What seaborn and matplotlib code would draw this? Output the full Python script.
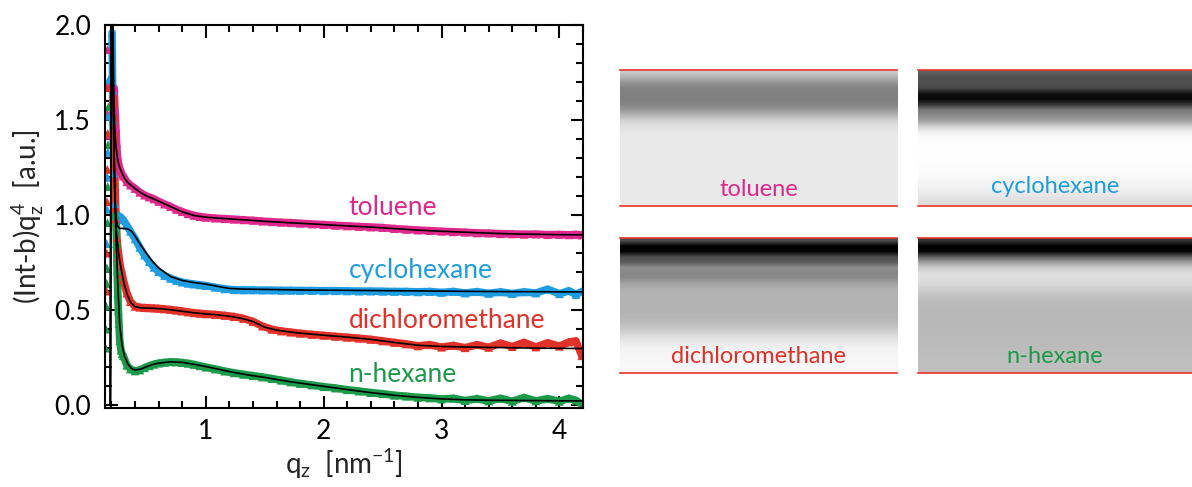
import numpy as np
import pandas as pd
import matplotlib
matplotlib.use("Agg")
import matplotlib.pyplot as plt
from matplotlib.ticker import MultipleLocator
import seaborn as sns

# ---------------------------------------------------------------- data
solvents = ["toluene", "cyclohexane", "dichloromethane", "n-hexane"]
colors = ["#E0278C", "#1F9DE2", "#E23128", "#1B9A4A"]

# measured points below the critical edge (left column of triangles)
tol_rise_q = [0.150, 0.154, 0.158, 0.162, 0.166]
tol_rise_y = [1.20, 1.42, 1.54, 1.69, 1.87]
cyc_rise_q = [0.156, 0.159, 0.162, 0.165, 0.168, 0.171, 0.174]
cyc_rise_y = [0.72, 0.85, 1.03, 1.20, 1.33, 1.52, 1.71]
dcm_rise_q = [0.156, 0.159, 0.162, 0.165, 0.168, 0.171]
dcm_rise_y = [0.60, 0.80, 1.07, 1.24, 1.43, 1.67]
hex_rise_q = [0.150, 0.153, 0.156, 0.159, 0.162, 0.165, 0.168, 0.171, 0.174]
hex_rise_y = [0.30, 0.40, 0.52, 0.64, 0.72, 0.96, 1.15, 1.37, 1.57]

# measured points on the falling side of the edge
tol_edge_q = [0.222, 0.230, 0.237, 0.243, 0.250, 0.260, 0.270, 0.280, 0.290]
tol_edge_y = [1.67, 1.55, 1.46, 1.38, 1.31, 1.27, 1.245, 1.23, 1.215]
cyc_edge_q = [0.205, 0.212, 0.220, 0.228, 0.236, 0.245, 0.255, 0.265, 0.275, 0.285]
cyc_edge_y = [1.96, 1.50, 1.22, 1.06, 1.00, 0.985, 0.99, 0.995, 0.99, 0.985]
dcm_edge_q = [0.214, 0.222, 0.230, 0.238, 0.246, 0.255, 0.263, 0.272, 0.280, 0.290]
dcm_edge_y = [1.62, 1.40, 1.15, 0.98, 0.88, 0.82, 0.78, 0.74, 0.715, 0.69]
hex_edge_q = [0.238, 0.243, 0.248, 0.253, 0.258, 0.263, 0.270, 0.280, 0.290]
hex_edge_y = [1.00, 0.85, 0.71, 0.59, 0.50, 0.43, 0.34, 0.29, 0.27]

# measured curves on a common q grid
q_data = [0.30, 0.33, 0.36, 0.40, 0.44, 0.48, 0.52, 0.56, 0.60,
          0.65, 0.70, 0.75, 0.80, 0.85, 0.90, 0.95, 1.00,
          1.08, 1.16, 1.24, 1.32, 1.40, 1.48, 1.56, 1.64, 1.72, 1.80,
          1.90, 2.00, 2.10, 2.20, 2.30, 2.40, 2.50, 2.60, 2.70, 2.80, 2.90, 3.00,
          3.10, 3.20, 3.30, 3.40, 3.50, 3.60, 3.70, 3.80, 3.90, 4.00,
          4.08, 4.14, 4.19]
toluene_y = [1.205, 1.175, 1.158, 1.14, 1.12, 1.105, 1.095, 1.085, 1.072,
             1.058, 1.045, 1.03, 1.018, 1.007, 0.998, 0.992, 0.988,
             0.984, 0.981, 0.978, 0.975, 0.972, 0.968, 0.965, 0.962, 0.96, 0.957,
             0.953, 0.95, 0.946, 0.943, 0.94, 0.937, 0.934, 0.929, 0.925, 0.921, 0.918, 0.915,
             0.912, 0.91, 0.906, 0.905, 0.902, 0.901, 0.899, 0.90, 0.897, 0.898,
             0.896, 0.898, 0.895]
cyclohexane_y = [0.975, 0.945, 0.915, 0.875, 0.83, 0.79, 0.755, 0.725, 0.702,
                 0.682, 0.667, 0.656, 0.647, 0.641, 0.637, 0.633, 0.629,
                 0.62, 0.612, 0.607, 0.606, 0.606, 0.605, 0.605, 0.604, 0.604, 0.603,
                 0.603, 0.602, 0.602, 0.601, 0.60, 0.60, 0.599, 0.598, 0.598, 0.596, 0.598, 0.593,
                 0.598, 0.59, 0.597, 0.588, 0.596, 0.587, 0.596, 0.59, 0.61, 0.586,
                 0.602, 0.582, 0.598]
dichloromethane_y = [0.66, 0.59, 0.545, 0.52, 0.515, 0.513, 0.512, 0.511, 0.509,
                     0.506, 0.503, 0.499, 0.495, 0.49, 0.486, 0.483, 0.48,
                     0.477, 0.472, 0.466, 0.456, 0.44, 0.416, 0.399, 0.39, 0.384, 0.378,
                     0.372, 0.367, 0.362, 0.357, 0.352, 0.346, 0.338, 0.33, 0.322, 0.312, 0.318, 0.305,
                     0.314, 0.302, 0.318, 0.304, 0.326, 0.308, 0.33, 0.306, 0.328, 0.31,
                     0.332, 0.338, 0.26]
nhexane_y = [0.26, 0.21, 0.19, 0.18, 0.185, 0.197, 0.207, 0.215, 0.221,
             0.225, 0.228, 0.227, 0.224, 0.22, 0.214, 0.207, 0.20,
             0.19, 0.179, 0.17, 0.162, 0.155, 0.148, 0.14, 0.131, 0.122, 0.114,
             0.106, 0.097, 0.09, 0.081, 0.074, 0.066, 0.06, 0.052, 0.047, 0.041, 0.038, 0.032,
             0.036, 0.024, 0.034, 0.022, 0.036, 0.02, 0.04, 0.022, 0.034, 0.02,
             0.036, 0.025, 0.005]

# model fits
q_fit = [0.19, 0.20, 0.21, 0.22, 0.23, 0.24, 0.25, 0.26, 0.27,
         0.29, 0.31, 0.34, 0.37, 0.40, 0.45, 0.50, 0.55, 0.60,
         0.70, 0.80, 0.90, 1.00, 1.10, 1.20, 1.30, 1.40, 1.50, 1.60, 1.70, 1.80,
         2.00, 2.20, 2.40, 2.60, 2.80, 3.00, 3.20, 3.40, 3.60, 3.80, 4.00, 4.20]
toluene_fit = [0.0, 2.6, 2.15, 1.62, 1.42, 1.35, 1.30, 1.27, 1.25,
               1.22, 1.195, 1.17, 1.155, 1.14, 1.117, 1.10, 1.087, 1.073,
               1.045, 1.017, 0.998, 0.989, 0.984, 0.98, 0.976, 0.972, 0.967, 0.964, 0.96, 0.957,
               0.95, 0.943, 0.937, 0.929, 0.921, 0.915, 0.91, 0.905, 0.901, 0.899, 0.897, 0.896]
cyclohexane_fit = [0.0, 2.6, 2.0, 1.4, 1.1, 0.98, 0.945, 0.935, 0.93,
                   0.93, 0.93, 0.926, 0.915, 0.89, 0.84, 0.795, 0.755, 0.722,
                   0.677, 0.656, 0.645, 0.637, 0.625, 0.614, 0.611, 0.61, 0.609, 0.608, 0.607, 0.606,
                   0.605, 0.604, 0.603, 0.602, 0.601, 0.60, 0.599, 0.598, 0.597, 0.597, 0.596, 0.596]
dichloromethane_fit = [0.0, 2.6, 1.85, 1.32, 1.05, 0.92, 0.86, 0.80, 0.76,
                       0.69, 0.63, 0.57, 0.535, 0.518, 0.512, 0.511, 0.51, 0.508,
                       0.502, 0.494, 0.486, 0.48, 0.475, 0.468, 0.457, 0.44, 0.41, 0.395, 0.386, 0.379,
                       0.368, 0.358, 0.346, 0.33, 0.315, 0.309, 0.306, 0.304, 0.302, 0.30, 0.299, 0.298]
nhexane_fit = [0.0, 2.6, 1.9, 1.4, 1.08, 0.86, 0.69, 0.55, 0.42,
               0.315, 0.26, 0.215, 0.193, 0.185, 0.19, 0.203, 0.214, 0.221,
               0.228, 0.225, 0.215, 0.203, 0.19, 0.177, 0.165, 0.155, 0.146, 0.135, 0.125, 0.116,
               0.099, 0.082, 0.066, 0.052, 0.041, 0.033, 0.028, 0.026, 0.025, 0.024, 0.023, 0.022]

# label anchor (left edge, baseline) for each curve
label_q = 2.21
label_y = [1.0, 0.667, 0.404, 0.123]

# grey-level depth profiles (top to bottom, 0 = black, 1 = white)
toluene_profile = [0.80, 0.70, 0.58, 0.51, 0.50, 0.50, 0.52, 0.60, 0.72, 0.83, 0.88, 0.905,
                   0.912, 0.913, 0.913, 0.913, 0.913, 0.913, 0.913, 0.913, 0.913, 0.913,
                   0.913, 0.913, 0.913]
cyclohexane_profile = [0.38, 0.31, 0.31, 0.28, 0.06, 0.03, 0.22, 0.48, 0.55, 0.63, 0.82, 0.94,
                       0.98, 0.99, 0.995, 0.995, 0.995, 0.99, 0.985, 0.975, 0.96, 0.945,
                       0.92, 0.89, 0.86]
dichloromethane_profile = [0.30, 0.0, 0.02, 0.30, 0.36, 0.56, 0.52, 0.55, 0.64, 0.69, 0.70, 0.70,
                           0.70, 0.705, 0.71, 0.73, 0.77, 0.82, 0.88, 0.92, 0.95, 0.96,
                           0.965, 0.97, 0.97]
nhexane_profile = [0.20, 0.0, 0.03, 0.38, 0.62, 0.80, 0.87, 0.87, 0.85, 0.81, 0.77, 0.74,
                   0.725, 0.72, 0.72, 0.72, 0.722, 0.725, 0.728, 0.73, 0.735, 0.74,
                   0.745, 0.748, 0.75]

# ---------------------------------------------------------------- style
sns.set_style("ticks")
plt.rcParams["font.family"] = ["Lato", "DejaVu Sans"]
plt.rcParams["mathtext.fontset"] = "custom"
plt.rcParams["mathtext.rm"] = "Lato"
plt.rcParams["mathtext.it"] = "Lato"
plt.rcParams["mathtext.bf"] = "Lato"

palette = dict(zip(solvents, colors))

rise = [(tol_rise_q, tol_rise_y), (cyc_rise_q, cyc_rise_y),
        (dcm_rise_q, dcm_rise_y), (hex_rise_q, hex_rise_y)]
edge = [(tol_edge_q, tol_edge_y), (cyc_edge_q, cyc_edge_y),
        (dcm_edge_q, dcm_edge_y), (hex_edge_q, hex_edge_y)]
curves = [toluene_y, cyclohexane_y, dichloromethane_y, nhexane_y]
fits = [toluene_fit, cyclohexane_fit, dichloromethane_fit, nhexane_fit]

frames = []
for name, (rq, ry), (eq, ey), cy in zip(solvents, rise, edge, curves):
    frames.append(pd.DataFrame({"q": rq, "y": ry, "solvent": name, "part": "rise"}))
    frames.append(pd.DataFrame({"q": eq, "y": ey, "solvent": name, "part": "edge"}))
    frames.append(pd.DataFrame({"q": q_data, "y": cy, "solvent": name, "part": "curve"}))
measured = pd.concat(frames, ignore_index=True)
band = measured[measured["part"] != "rise"]

fit_df = pd.concat([pd.DataFrame({"q": q_fit, "y": f, "solvent": n})
                    for n, f in zip(solvents, fits)], ignore_index=True)

fig = plt.figure(figsize=(11.92, 4.87), dpi=100)
ax = fig.add_axes([0.0881, 0.1622, 0.401, 0.7864])

sns.lineplot(data=band, x="q", y="y", hue="solvent", palette=palette,
             estimator=None, sort=False, linewidth=5.5, legend=False, ax=ax, zorder=1)
sns.scatterplot(data=measured, x="q", y="y", hue="solvent", palette=palette,
                marker="^", s=40, linewidth=0, legend=False, ax=ax, zorder=2)
sns.lineplot(data=fit_df, x="q", y="y", units="solvent", estimator=None,
             sort=False, color="black", linewidth=1.2, legend=False, ax=ax, zorder=3)

for name, col, ly in zip(solvents, colors, label_y):
    ax.text(label_q, ly, name, color=col, fontsize=19, ha="left", va="baseline")

ax.set_xlim(0.145, 4.2)
ax.set_ylim(-0.015, 2.0)
ax.xaxis.set_major_locator(MultipleLocator(1))
ax.xaxis.set_minor_locator(MultipleLocator(0.2))
ax.yaxis.set_major_locator(MultipleLocator(0.5))
ax.yaxis.set_minor_locator(MultipleLocator(0.1))
ax.set_yticks([0, 0.5, 1.0, 1.5, 2.0])
ax.set_yticklabels(["0.0", "0.5", "1.0", "1.5", "2.0"])
ax.tick_params(which="both", direction="in", top=True, right=True, width=1.5,
               labelsize=19, colors="black")
ax.tick_params(which="major", length=9)
ax.tick_params(which="minor", length=5)
ax.tick_params(axis="x", pad=8)
ax.tick_params(axis="y", pad=10)
for sp in ax.spines.values():
    sp.set_linewidth(1.5)
    sp.set_color("black")
ax.set_xlabel(r"q$_\mathregular{z}$  [nm$^\mathregular{-1}$]", fontsize=20, labelpad=2)
ax.set_ylabel(r"(Int-b)q$_\mathregular{z}^\mathregular{4}$  [a.u.]", fontsize=20, labelpad=6)

# ---------------------------------------------------------------- depth maps
profiles = [toluene_profile, cyclohexane_profile, dichloromethane_profile, nhexane_profile]
boxes = [[0.5201, 0.577, 0.2324, 0.2793], [0.7701, 0.577, 0.2299, 0.2793],
         [0.5201, 0.2341, 0.2324, 0.2772], [0.7701, 0.2341, 0.2299, 0.2772]]
label_base = [0.075, 0.095, 0.075, 0.075]
for name, col, prof, box, lb in zip(solvents, colors, profiles, boxes, label_base):
    pax = fig.add_axes(box)
    img = np.tile(np.asarray(prof)[:, None], (1, 2))
    pax.imshow(img, cmap="gray", vmin=0, vmax=1, aspect="auto",
               interpolation="bilinear", extent=[0, 1, 0, 1], origin="upper")
    pax.set_xlim(0, 1)
    pax.set_ylim(0, 1)
    pax.set_xticks([])
    pax.set_yticks([])
    pax.spines["left"].set_visible(False)
    pax.spines["right"].set_visible(False)
    for s in ("top", "bottom"):
        pax.spines[s].set_color("#E8332B")
        pax.spines[s].set_linewidth(1.2)
    pax.text(0.5, lb, name, color=col, fontsize=17, ha="center", va="baseline",
             transform=pax.transAxes)

fig.savefig("out.png", dpi=100)
